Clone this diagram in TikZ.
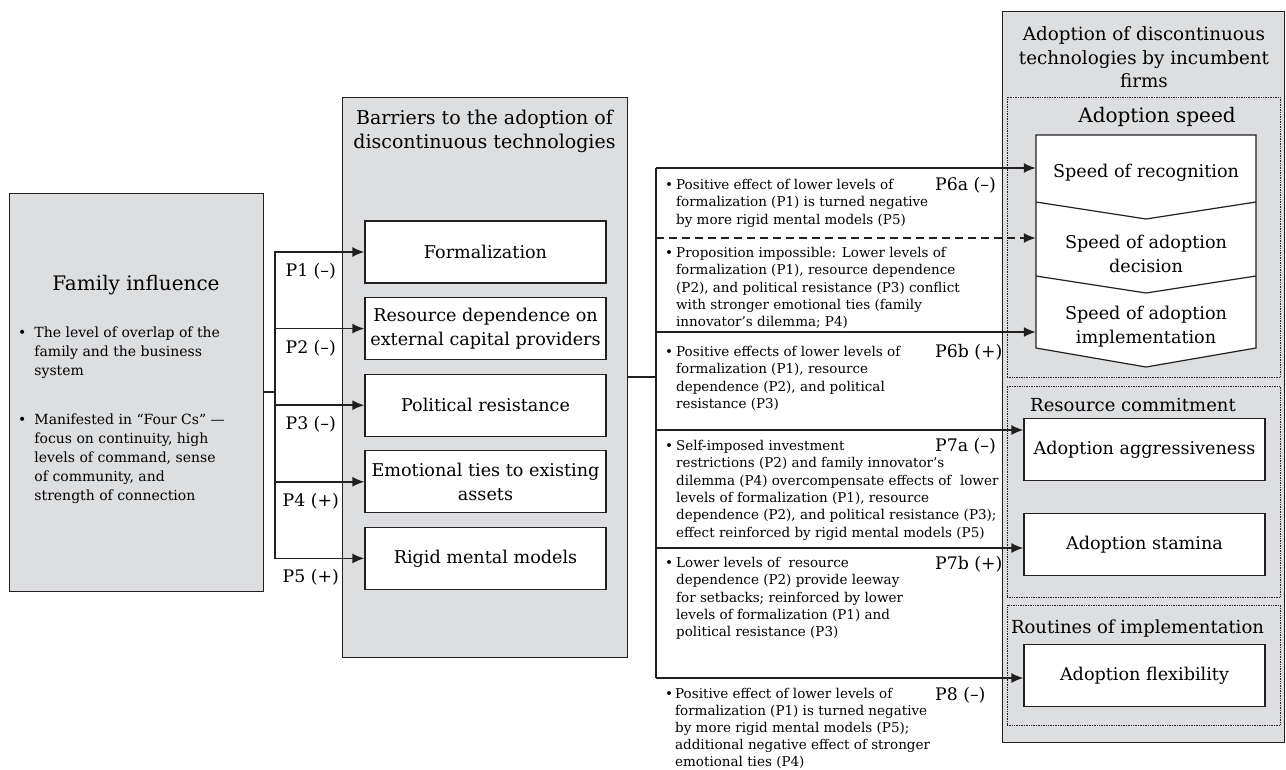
\documentclass[tikz,border=0pt]{standalone}
\usepackage{fontspec}
\setmainfont{DejaVu Serif}
\usepackage{tikz}
\usetikzlibrary{calc,arrows,arrows.meta,fit,positioning}
\definecolor{panelgray}{RGB}{221,222,224}
\definecolor{ink}{RGB}{35,31,32}
\newcommand{\labfont}{\fontsize{17.6}{24}\selectfont}
\newcommand{\headfont}{\fontsize{19}{24}\selectfont}
\newcommand{\groupfont}{\fontsize{18}{24}\selectfont}
\newcommand{\notefont}{\fontsize{13.5}{17.3}\selectfont}
\newcommand{\famfont}{\fontsize{14}{19}\selectfont}
\newcommand{\bitem}[2][3pt]{\begin{tabular}[t]{@{}l@{\hspace{#1}}l@{}}\textbullet&\begin{tabular}[t]{@{}l@{}}#2\end{tabular}\end{tabular}}
\tikzstyle{line} = [draw=ink, line width=1.2pt]
\tikzstyle{arrowline} = [draw=ink, ->, line width=1.6pt]
\tikzstyle{panel} = [draw=ink, fill=panelgray, line width=0.9pt]
\tikzstyle{barrier} = [draw=ink, fill=white, line width=1.2pt, minimum width=241pt, minimum height=62pt, inner sep=0pt, align=center, font=\labfont]
\tikzstyle{speed} = [minimum width=220pt, inner sep=0pt, align=center, font=\labfont]
\tikzstyle{dotbox} = [draw=ink, densely dotted, line width=0.7pt]
\tikzstyle{heading} = [align=center, font=\headfont, inner sep=0pt]
\tikzstyle{plabel} = [font=\fontsize{17.3}{22}\selectfont, inner sep=0pt]
\tikzstyle{note} = [anchor=base west, font=\notefont, inner sep=0pt]
\begin{document}
\begin{tikzpicture}[x=1pt, y=-1pt, node distance=76.6pt, auto, >={Latex[length=12pt,width=10pt]}]
\path[use as bounding box, fill=white] (0,0) rectangle (1286,769);

% panels
\node (fam)   [panel, minimum width=254pt, minimum height=398pt] at (136,392) {};
\node (bar)   [panel, minimum width=285pt, minimum height=560pt] at (484.5,377) {};
\node (adopt) [panel, minimum width=282pt, minimum height=731pt] at (1143,376.5) {};

% groups
\node (box_speed)   [dotbox, minimum width=273pt, minimum height=280pt] at (1143.5,237) {};
\node (box_commit)  [dotbox, minimum width=273pt, minimum height=211pt] at (1143.5,491.5) {};
\node (box_routine) [dotbox, minimum width=273pt, minimum height=120pt] at (1143.5,665) {};

% headings
\node [heading, font=\fontsize{20}{24}\selectfont] at (136,285) {Family influence};
\node [heading] at (484.5,131)  {Barriers to the adoption of\\discontinuous technologies};
\node [heading, font=\fontsize{18.3}{23.5}\selectfont] at (1144,57.5) {Adoption of discontinuous\\technologies by incumbent\\firms};
\node [heading, font=\fontsize{20}{24}\selectfont] at (1157,117) {Adoption speed};
\node [heading, font=\groupfont] at (1133,405)   {Resource commitment};
\node [heading, font=\groupfont] at (1137.5,629) {Routines of implementation};

% family
\node [note, font=\famfont] at (18,337) {\bitem[8pt]{The level of overlap of the\\family and the business\\system}};
\node [note, font=\famfont] at (18,424) {\bitem[8pt]{Manifested in “Four Cs” —\\focus on continuity, high\\levels of command, sense\\of community, and\\strength of connection}};

% barriers
\node (bform) [barrier] at (485.5,252)  {Formalization};
\node (bres)  [barrier, below of=bform] {Resource dependence on\\external capital providers};
\node (bpol)  [barrier, below of=bres]  {Political resistance};
\node (bemo)  [barrier, below of=bpol]  {Emotional ties to existing\\assets};
\node (brig)  [barrier, below of=bemo]  {Rigid mental models};

% speed
\filldraw[fill=white, draw=ink, line width=1.2pt] (1036,135) -- (1256,135) -- (1256,348) -- (1146,367) -- (1036,348) -- cycle;
\draw[ink, line width=1.2pt] (1036,202) -- (1146,219) -- (1256,202);
\draw[ink, line width=1.2pt] (1036,276) -- (1146,293) -- (1256,276);
\node (srec) [speed] at (1146,173)   {Speed of recognition};
\node (sdec) [speed] at (1146,253.5) {Speed of adoption\\decision};
\node (simp) [speed] at (1146,326.5) {Speed of adoption\\implementation};

% outcomes
\node (aagg)  [barrier] at (1144.5,449.5) {Adoption aggressiveness};
\node (asta)  [barrier, below of=aagg, node distance=95pt] {Adoption stamina};
\node (aflex) [barrier] at (1144.5,675.5) {Adoption flexibility};

% edges: family to barriers
\coordinate (jf) at (275,392);
\path[line] (fam.east) -- (jf);
\path[arrowline] (jf) |- (bform) node[plabel, pos=0.7, below=10.5pt] {P1 (--)};
\path[arrowline] (jf) |- (bres)  node[plabel, pos=0.7, below=10.5pt] {P2 (--)};
\path[arrowline] (jf) |- (bpol)  node[plabel, pos=0.7, below=10.5pt] {P3 (--)};
\path[arrowline] (jf) |- (bemo)  node[plabel, pos=0.7, below=10.5pt] {P4 (+)};
\path[arrowline] (jf) |- (brig)  node[plabel, pos=0.7, below=10.5pt] {P5 (+)};

% edges: barriers to adoption
\coordinate (jm) at ($(bar.east)+(29,0)$);
\coordinate (r1) at (656,168);
\coordinate (r2) at (656,238);
\coordinate (r3) at (656,332);
\coordinate (r4) at (656,430);
\coordinate (r5) at (656,548);
\coordinate (r6) at (656,678);
\path[line] (bar.east) -- (jm);
\path[line, line width=1.6pt] (r1) -- (r6);
\path[arrowline] (r1) -- (r1 -| srec.west);
\path[arrowline, dash pattern=on 8pt off 5pt] (r2) -- (r2 -| sdec.west);
\path[arrowline] (r3) -- (r3 -| simp.west);
\path[arrowline] (r4) -- (r4 -| aagg.west);
\path[arrowline] (r5) -- (r5 -| asta.west);
\path[arrowline] (r6) -- (r6 -| aflex.west);

% propositions
\node [plabel, anchor=west] at (935,185) {P6a (--)};
\node [plabel, anchor=west] at (935,352) {P6b (+)};
\node [plabel, anchor=west] at (935,446) {P7a (--)};
\node [plabel, anchor=west] at (935,564) {P7b (+)};
\node [plabel, anchor=west] at (935,695) {P8 (--)};

\node [note] at (665,189.5) {\bitem{Positive effect of lower levels of\\formalization (P1) is turned negative\\by more rigid mental models (P5)}};
\node [note] at (665,257.5) {\bitem{Proposition impossible: Lower levels of\\formalization (P1), resource dependence\\(P2), and political resistance (P3) conflict\\with stronger emotional ties (family\\innovator’s dilemma; P4)}};
\node [note] at (665,356.5) {\bitem{Positive effects of lower levels of\\formalization (P1), resource\\dependence (P2), and political\\resistance (P3)}};
\node [note] at (665,450.5) {\bitem{Self-imposed investment\\restrictions (P2) and family innovator’s\\dilemma (P4) overcompensate effects of~ lower\\levels of formalization (P1), resource\\dependence (P2), and political resistance (P3);\\effect reinforced by rigid mental models (P5)}};
\node [note] at (665,567.5) {\bitem{Lower levels of~ resource\\dependence (P2) provide leeway\\for setbacks; reinforced by lower\\levels of formalization (P1) and\\political resistance (P3)}};
\node [note, font=\fontsize{13.5}{17}\selectfont] at (665,698) {\bitem[2pt]{Positive effect of lower levels of\\formalization (P1) is turned negative\\by more rigid mental models (P5);\\additional negative effect of stronger\\emotional ties (P4)}};

\end{tikzpicture}
\end{document}
